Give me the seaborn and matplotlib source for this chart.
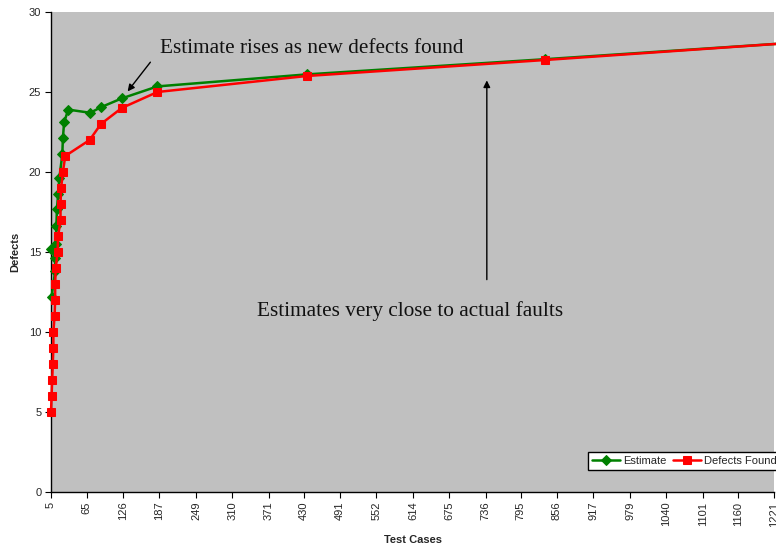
import matplotlib
matplotlib.use("Agg")
import matplotlib.pyplot as plt
import seaborn as sns
import pandas as pd

# ---- data ----
found_x = [5, 6, 7, 8, 9, 9, 11, 12, 12, 13, 16, 17, 21, 21, 22, 25, 29, 70, 89, 124, 184, 435, 836, 1250]
found_y = [5, 6, 7, 8, 9, 10, 11, 12, 13, 14, 15, 16, 17, 18, 19, 20, 21, 22, 23, 24, 25, 26, 27, 28.07]

est_x = [6, 12, 12, 5, 13, 14, 15, 17, 19, 24, 25, 27, 34, 71, 89, 124, 184, 435, 836, 1250]
est_y = [12.2, 13.8, 14.6, 15.2, 15.5, 16.6, 17.7, 18.6, 19.6, 21.1, 22.1, 23.1, 23.9,
         23.7, 24.05, 24.6, 25.35, 26.1, 27.05, 28.07]

tick_vals = [5, 65, 126, 187, 249, 310, 371, 430, 491, 552, 614, 675, 736, 795,
             856, 917, 979, 1040, 1101, 1160, 1221]
tick_labels = [str(v) for v in tick_vals]
y_ticks = [0, 5, 10, 15, 20, 25, 30]

sns.set_style("white")
plt.rcParams['font.family'] = ['Liberation Sans', 'DejaVu Sans']

fig = plt.figure(figsize=(7.76, 5.47), dpi=100)
ax = fig.add_axes([51/776, 1 - 492/547, (774 - 51)/776, (492 - 12)/547])
ax.set_facecolor('#C0C0C0')

df_est = pd.DataFrame({'x': est_x, 'y': est_y})
df_found = pd.DataFrame({'x': found_x, 'y': found_y})

sns.lineplot(data=df_est, x='x', y='y', sort=False, estimator=None, ax=ax,
             color='#008000', linewidth=1.8, marker='D', markersize=5.2,
             markeredgecolor='#008000', label='Estimate', clip_on=False)
sns.lineplot(data=df_found, x='x', y='y', sort=False, estimator=None, ax=ax,
             color='#FF0000', linewidth=1.8, marker='s', markersize=6.0,
             markeredgecolor='#FF0000', label='Defects Found', clip_on=False)

ax.set_xlim(5, 1221)
ax.set_ylim(0, 30)
ax.set_xticks(tick_vals)
ax.set_xticklabels(tick_labels, rotation=90, fontsize=8)
ax.set_yticks(y_ticks)
ax.set_yticklabels([str(v) for v in y_ticks], fontsize=8)
ax.tick_params(axis='both', direction='out', length=4, width=0.8, color='black',
               bottom=True, left=True, pad=3)
for s in ['top', 'right']:
    ax.spines[s].set_visible(False)
for s in ['left', 'bottom']:
    ax.spines[s].set_color('black')
    ax.spines[s].set_linewidth(1.0)
    ax.spines[s].set_zorder(1)

ax.set_xlabel('Test Cases', fontsize=8, fontweight='bold')
ax.set_ylabel('Defects', fontsize=8, fontweight='bold')
ax.xaxis.set_label_coords(0.5, -0.09)
ax.yaxis.set_label_coords(-0.042, 0.5)

serif = ['Liberation Serif', 'DejaVu Serif']
ax.annotate('', xy=(131, 24.9), xytext=(175, 27.0),
            arrowprops=dict(arrowstyle='-|>', color='black', lw=1.0, mutation_scale=10))
ax.text(188, 27.7, 'Estimate rises as new defects found', fontsize=15.3,
        family=serif, va='center', ha='left', color='#111111')

ax.annotate('', xy=(738, 25.9), xytext=(738, 13.1),
            arrowprops=dict(arrowstyle='-|>', color='black', lw=1.0, mutation_scale=10))
ax.text(609, 11.3, 'Estimates very close to actual faults', fontsize=15.3,
        family=serif, va='center', ha='center', color='#111111')

leg = ax.legend(loc='upper left', bbox_to_anchor=(588/776, 1 - 452/547),
                bbox_transform=fig.transFigure, ncol=2, fontsize=8, frameon=True,
                fancybox=False, framealpha=1, edgecolor='black', handlelength=2.5,
                handletextpad=0.3, columnspacing=0.6, borderpad=0.35, borderaxespad=0)
leg.get_frame().set_linewidth(1.0)

fig.savefig('out.png', dpi=100)
